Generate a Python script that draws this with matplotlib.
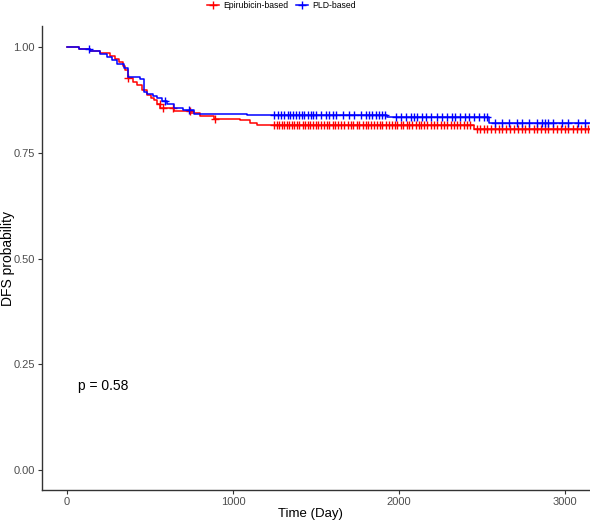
import matplotlib
matplotlib.use("Agg")
import matplotlib.pyplot as plt
from matplotlib.lines import Line2D

plt.rcParams["font.family"] = ["Liberation Sans", "DejaVu Sans"]

# Kaplan-Meier step curves (time in days, DFS probability)
epi_times = [0, 70, 140, 200, 261, 290, 311, 335, 351, 365, 400, 421, 451, 482, 505,
             522, 545, 562, 642, 743, 803, 883, 1044, 1100, 1145, 2450, 3150]
epi_surv = [1.0, 0.995, 0.991, 0.987, 0.979, 0.972, 0.965, 0.955, 0.946, 0.928, 0.918,
            0.910, 0.898, 0.887, 0.880, 0.875, 0.866, 0.857, 0.849, 0.845, 0.837, 0.830,
            0.827, 0.821, 0.816, 0.806, 0.806]

pld_times = [0, 70, 140, 200, 241, 270, 301, 341, 365, 441, 462, 482, 520, 544, 575,
             600, 642, 702, 763, 1084, 1928, 2540, 3150]
pld_surv = [1.0, 0.995, 0.991, 0.985, 0.977, 0.970, 0.961, 0.950, 0.930, 0.926, 0.894,
            0.890, 0.884, 0.879, 0.872, 0.865, 0.857, 0.851, 0.843, 0.839, 0.835, 0.821,
            0.821]

# censored observations
epi_cens = [365, 560, 580, 640, 740, 890,
            1250, 1265, 1280, 1295, 1310, 1325, 1340, 1355, 1370, 1385, 1400, 1420, 1435,
            1450, 1465, 1480, 1500, 1515, 1530, 1550, 1565, 1580, 1600, 1615, 1635, 1650,
            1670, 1690, 1710, 1725, 1745, 1760, 1780, 1800, 1815, 1830, 1850, 1865, 1885,
            1900, 1920, 1940, 1960, 1975, 1990, 2010, 2025, 2045, 2060, 2080, 2100, 2120,
            2135, 2150, 2170, 2190, 2210, 2230, 2250, 2270, 2290, 2310, 2330, 2350, 2370,
            2390, 2410, 2430, 2470, 2490, 2510, 2530, 2555, 2575, 2600, 2620, 2645, 2670,
            2690, 2715, 2740, 2760, 2785, 2810, 2830, 2855, 2880, 2900, 2925, 2950, 2975,
            3000, 3020, 3045, 3070, 3095, 3120, 3140]
pld_cens = [135, 590, 735,
            1250, 1270, 1290, 1310, 1330, 1345, 1360, 1380, 1400, 1415, 1430, 1450, 1470,
            1480, 1500, 1530, 1560, 1580, 1600, 1620, 1660, 1700, 1730, 1770, 1800, 1820,
            1840, 1860, 1880, 1900, 1915, 1980, 2010, 2040, 2070, 2090, 2110, 2140, 2160,
            2190, 2230, 2260, 2290, 2320, 2340, 2370, 2400, 2420, 2450, 2480, 2510, 2530,
            2580, 2620, 2660, 2710, 2740, 2780, 2830, 2860, 2880, 2900, 2930, 2980, 3020,
            3080, 3120]

x_ticks = [0, 1000, 2000, 3000]
y_ticks = [0.0, 0.25, 0.5, 0.75, 1.0]


def surv_at(times, surv, t):
    s = surv[0]
    for ti, si in zip(times, surv):
        if ti <= t:
            s = si
    return s


fig = plt.figure(figsize=(5.9, 5.23), dpi=100)
ax = fig.add_axes([0.0712, 0.063, 0.9288, 0.887])

groups = [
    ("Epirubicin-based", epi_times, epi_surv, epi_cens, "#FF0000"),
    ("PLD-based", pld_times, pld_surv, pld_cens, "#0000FF"),
]
for name, times, surv, cens, col in groups:
    ax.step(times, surv, where="post", color=col, lw=1.1)
    cy = [surv_at(times, surv, t) for t in cens]
    ax.plot(cens, cy, ls="none", marker="+", ms=6, mew=1.0, color=col)

ax.set_xlim(-150, 3150)
ax.set_ylim(-0.047, 1.05)
ax.set_xticks(x_ticks)
ax.set_yticks(y_ticks)
ax.set_yticklabels([f"{v:.2f}" for v in y_ticks])
ax.tick_params(colors="#333333", labelcolor="#4D4D4D", labelsize=8, length=3, width=0.8, pad=2)

for s in ["top", "right"]:
    ax.spines[s].set_visible(False)
for s in ["left", "bottom"]:
    ax.spines[s].set_color("#333333")
    ax.spines[s].set_linewidth(1.0)

ax.set_ylabel("DFS probability", fontsize=10, va="center")
ax.yaxis.set_label_coords(-0.062, 0.5)
ax.set_xlabel("Time (Day)", fontsize=9.5, va="center")
ax.xaxis.set_label_coords(0.489, -0.052)

ax.text(68, 0.2, "p = 0.58", fontsize=10, ha="left", va="center")

handles = [Line2D([], [], color=c, lw=1.1, marker="+", ms=6, mew=1.0) for _, _, _, _, c in groups]
fig.legend(handles, [g[0] for g in groups], loc="center", bbox_to_anchor=(0.477, 1 - 6 / 523),
           ncol=2, frameon=False, fontsize=6.2, handlelength=1.4, handletextpad=0.5,
           columnspacing=0.8)

fig.savefig("out.png", dpi=100)
plt.close(fig)
